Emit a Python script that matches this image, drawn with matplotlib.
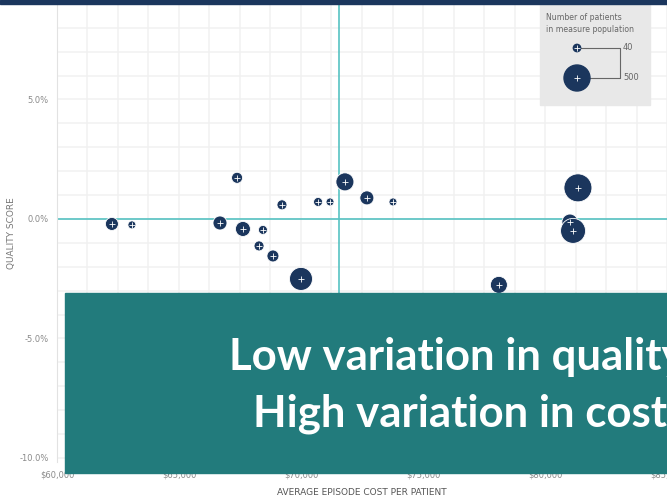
#!/usr/bin/env python
import matplotlib
matplotlib.use('Agg')
import matplotlib.pyplot as plt
from matplotlib.patches import Rectangle
from matplotlib.ticker import MultipleLocator, FuncFormatter

# average episode cost per patient ($) / quality score (%) / patients in measure population
cost = [62250, 63070, 66680, 67380, 67620, 68440, 68280, 68850, 69220, 70000,
        70700, 71190, 71800, 72700, 73770, 78110, 81350, 81020, 81150]
quality = [-0.21, -0.25, -0.17, 1.72, -0.42, -0.46, -1.13, -1.55, 0.59, -2.51,
           0.71, 0.71, 1.55, 0.88, 0.71, -2.76, 1.30, -0.13, -0.50]
patients = [125, 47, 145, 90, 166, 60, 74, 106, 74, 391,
            60, 47, 240, 145, 47, 214, 580, 189, 462]
avg_cost = 71560
x_ticks = [60000, 65000, 70000, 75000, 80000, 85000]
y_ticks = [-10, -5, 0, 5]
legend_sizes = [40, 500]
headline = ['Low variation in quality', 'High variation in cost']

NAVY = '#1b365d'
TEAL = '#227b7c'
CYAN = '#56c2c2'
GRID = '#f1f1f1'
LABEL = '#8a8a8a'
SIZE_K = 0.7


def main():
    fig = plt.figure(figsize=(6.67, 5.01), dpi=100)
    ax = fig.add_axes([57 / 667, 39 / 501, 610 / 667, 457 / 501])

    ax.set_xlim(60000, 85000)
    ax.set_ylim(-10.17, 8.95)
    ax.xaxis.set_minor_locator(MultipleLocator(1250))
    ax.yaxis.set_minor_locator(MultipleLocator(1))
    ax.set_xticks(x_ticks)
    ax.set_yticks(y_ticks)
    ax.xaxis.set_major_formatter(FuncFormatter(lambda v, p: '${:,.0f}'.format(v)))
    ax.yaxis.set_major_formatter(FuncFormatter(lambda v, p: '{:.1f}%'.format(v)))
    ax.set_axisbelow(True)
    ax.grid(True, which='both', color=GRID, linewidth=1.1)
    ax.tick_params(which='both', length=0, labelsize=6, labelcolor=LABEL, pad=6)
    for s in ax.spines.values():
        s.set_visible(False)
    ax.spines['left'].set_visible(True)
    ax.spines['left'].set_color('#e2e2e2')

    ax.axhline(0, color=CYAN, linewidth=1.2, zorder=2)
    ax.axvline(avg_cost, color=CYAN, linewidth=1.2, zorder=2)

    sizes = [SIZE_K * n for n in patients]
    ax.scatter(cost, quality, s=sizes, color=NAVY, edgecolor='white', linewidth=0.6, zorder=3)
    ax.scatter(cost, quality, s=14, marker='+', color='white', linewidth=0.6, zorder=4)

    ax.set_ylabel('QUALITY SCORE', fontsize=6.5, color='#777777', labelpad=8)
    ax.set_xlabel('AVERAGE EPISODE COST PER PATIENT', fontsize=6.5, color='#555555', labelpad=6)
    ax.yaxis.set_label_coords(-0.068, 0.5)

    # size legend box
    fig.patches.append(Rectangle((540 / 667, 396 / 501), 110 / 667, 101 / 501,
                                 transform=fig.transFigure, color='#e8e8e8', zorder=5))
    fig.text(546 / 667, 488 / 501, 'Number of patients\nin measure population',
             fontsize=5.6, color='#666666', va='top', ha='left', linespacing=1.4, zorder=6)
    lax = fig.add_axes([540 / 667, 396 / 501, 110 / 667, 101 / 501], zorder=6)
    lax.set_xlim(540, 650)
    lax.set_ylim(105, 4)
    lax.axis('off')
    ly = [48, 78]
    lax.plot([577, 620, 620, 577], [ly[0], ly[0], ly[1], ly[1]], color='#666666', linewidth=0.8, zorder=1)
    lax.scatter([577, 577], ly, s=[SIZE_K * n for n in legend_sizes], color=NAVY, zorder=2)
    lax.scatter([577, 577], ly, s=14, marker='+', color='white', linewidth=0.6, zorder=3)
    for y, n in zip(ly, legend_sizes):
        lax.text(623, y, str(n), fontsize=6, color='#666666', va='center', ha='left')

    # top bar
    fig.patches.append(Rectangle((0, 497 / 501), 1, 4 / 501, transform=fig.transFigure,
                                 color=NAVY, zorder=5))

    # headline box (runs off the right edge, as in the source slide)
    fig.patches.append(Rectangle((65 / 667, 28 / 501), 1, 180 / 501, transform=fig.transFigure,
                                 color=TEAL, zorder=8))
    fig.text(229 / 667, 131 / 501, headline[0], fontsize=31.5, family='Lato', weight='bold',
             color='white', ha='left', va='baseline', zorder=9)
    fig.text(253 / 667, 74 / 501, headline[1], fontsize=31.5, family='Lato', weight='bold',
             color='white', ha='left', va='baseline', zorder=9)

    fig.savefig('out.png', dpi=100)


if __name__ == '__main__':
    main()
